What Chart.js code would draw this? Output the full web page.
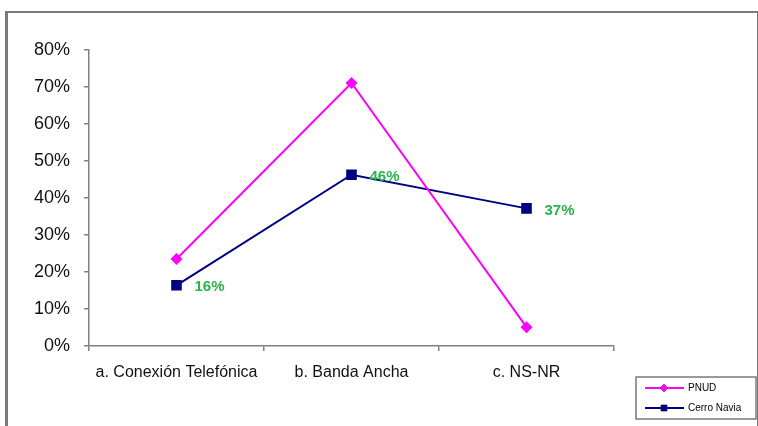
<!DOCTYPE html>
<html>
<head>
<meta charset="utf-8">
<script src="https://cdn.jsdelivr.net/npm/chart.js@4.4.1/dist/chart.umd.min.js"></script>
<style>
  html, body { margin: 0; padding: 0; background: #fff; overflow: hidden; }
  #frame {
    position: absolute; left: 5px; top: 11px; width: 749px; height: 460px;
    border-left: 3px solid #7a7a7a; border-top: 2px solid #7a7a7a; border-right: 2px solid #7a7a7a;
  }
  #wrap { position: absolute; left: 0; top: 0; width: 758px; height: 426px; }
</style>
</head>
<body>
<div id="frame"></div>
<div id="wrap"><canvas id="chart" width="758" height="426"></canvas></div>
<script>
const categories = ['a. Conexión Telefónica', 'b. Banda Ancha', 'c. NS-NR']
const pnudValues = [23.5, 71.1, 5.1]
const cerroNaviaValues = [16.4, 46.3, 37.2]
const cerroNaviaLabels = ['16%', '46%', '37%']
const yTicks = [0, 10, 20, 30, 40, 50, 60, 70, 80]

const AXIS_COLOR = '#808080'
const LABEL_GREEN = '#2bb24c'

// green value labels to the right of the Cerro Navia points
const valueLabels = {
    id: 'valueLabels',
    afterDatasetsDraw(chart) {
        let ctx = chart.ctx
        let meta = chart.getDatasetMeta(1)
        ctx.save()
        ctx.font = 'bold 15px "Liberation Sans", Arial, sans-serif'
        ctx.fillStyle = LABEL_GREEN
        ctx.textAlign = 'left'
        ctx.textBaseline = 'middle'
        meta.data.forEach(function (pt, i) {
            ctx.fillText(cerroNaviaLabels[i], pt.x + 18, pt.y + 2)
        })
        ctx.restore()
    }
}

// boxed legend in the bottom right corner
const boxLegend = {
    id: 'boxLegend',
    afterDraw(chart) {
        let ctx = chart.ctx
        let x = 636, y = 377, w = 120, h = 42
        ctx.save()
        ctx.strokeStyle = '#7a7a7a'
        ctx.lineWidth = 1.5
        ctx.strokeRect(x, y, w, h)
        ctx.font = '10px "Liberation Sans", Arial, sans-serif'
        ctx.textBaseline = 'middle'
        ctx.textAlign = 'left'
        chart.data.datasets.forEach(function (ds, i) {
            let ly = y + 11 + i * 20
            ctx.strokeStyle = ds.borderColor
            ctx.lineWidth = 2
            ctx.beginPath()
            ctx.moveTo(x + 9, ly)
            ctx.lineTo(x + 48, ly)
            ctx.stroke()
            Chart.helpers.drawPoint(ctx, {
                pointStyle: ds.pointStyle,
                radius: ds.pointStyle === 'rect' ? 4.5 : 4,
                borderWidth: 0
            }, x + 28, ly)
            ctx.fillStyle = ds.borderColor
            ctx.fill()
            ctx.fillStyle = '#000'
            ctx.fillText(ds.label, x + 52, ly)
        })
        ctx.restore()
    }
}

let ctx = document.getElementById('chart').getContext('2d')

let lineChart = new Chart(ctx, {
    type: 'line',
    data: {
        labels: categories,
        datasets: [{
            label: 'PNUD',
            data: pnudValues,
            borderColor: '#ff00ff',
            backgroundColor: '#ff00ff',
            borderWidth: 2,
            pointStyle: 'rectRot',
            pointRadius: 6,
            pointBorderWidth: 0,
            tension: 0
        }, {
            label: 'Cerro Navia',
            data: cerroNaviaValues,
            borderColor: '#000080',
            backgroundColor: '#000080',
            borderWidth: 2,
            pointStyle: 'rect',
            pointRadius: 7.5,
            pointBorderWidth: 0,
            tension: 0
        }]
    },
    options: {
        responsive: false,
        animation: false,
        layout: { padding: { left: 0, top: 50, right: 144, bottom: 0 } },
        plugins: {
            legend: { display: false },
            tooltip: { enabled: false }
        },
        scales: {
            x: {
                offset: true,
                grid: { offset: true, drawOnChartArea: false, tickLength: 5, color: AXIS_COLOR, lineWidth: 1.5 },
                border: { color: AXIS_COLOR, width: 1.5 },
                ticks: {
                    color: '#111',
                    padding: 12,
                    maxRotation: 0,
                    font: { family: '"Liberation Sans", Arial, sans-serif', size: 16 }
                },
                afterFit: function (scale) { scale.height = 80 }
            },
            y: {
                min: 0,
                max: 80,
                afterBuildTicks: function (scale) {
                    scale.ticks = yTicks.map(function (v) { return { value: v } })
                },
                grid: { drawOnChartArea: false, tickLength: 5, color: AXIS_COLOR, lineWidth: 1.5 },
                border: { color: AXIS_COLOR, width: 1.5 },
                ticks: {
                    color: '#111',
                    padding: 14,
                    font: { family: '"Liberation Sans", Arial, sans-serif', size: 18 },
                    callback: function (v) { return v + '%' }
                },
                afterFit: function (scale) { scale.width = 89 }
            }
        }
    },
    plugins: [valueLabels, boxLegend]
});
</script>
</body>
</html>
